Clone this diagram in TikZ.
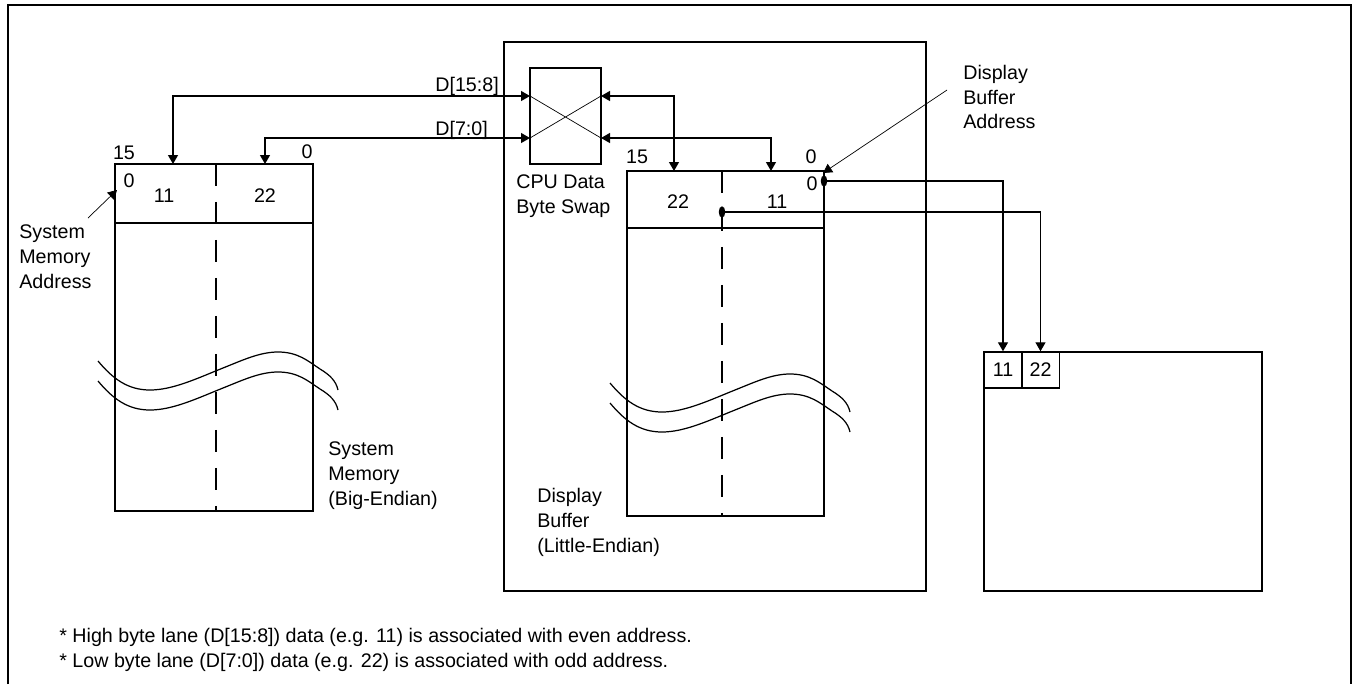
\documentclass[tikz,border=0pt]{standalone}
\usepackage{fontspec}
\setmainfont{Liberation Sans}
\usetikzlibrary{arrows.meta}
\begin{document}
\begin{tikzpicture}[x=0.02cm,y=-0.02cm,font=\fontsize{11.2}{14.2}\selectfont,
  box/.style={line width=0.8pt},
  bus/.style={line width=0.7pt,{Triangle[length=0.18cm,width=0.2cm]}-{Triangle[length=0.18cm,width=0.2cm]}},
  feed/.style={line width=0.7pt,-{Triangle[length=0.18cm,width=0.2cm]}},
  lead/.style={line width=0.4pt,-{Triangle[length=0.18cm,width=0.2cm]}},
  lane/.style={line width=0.7pt,dash pattern=on 0.44cm off 0.32cm},
  wave/.style={line width=0.7pt},
  cell/.style={draw,line width=0.8pt,minimum width=0.76cm,minimum height=0.72cm,inner sep=0pt},
  txt/.style={anchor=west,align=left,inner sep=0pt}]
  \useasboundingbox (0,0) rectangle (1357,684);
  \draw[box] (8,684) -- (8,5) -- (1351,5) -- (1351,684);
  % system memory
  \draw[box] (115,164) rectangle (313,511);
  \draw[box] (115,223) -- (313,223);
  \draw[lane] (216,164) -- (216,511);
  \foreach \dy in {0,20}
    \draw[wave,shift={(98,{361+\dy})}] (0,0) .. controls (15,18) and (30,29) .. (52,29)
      .. controls (75,29) and (100,17) .. (125,7) .. controls (145,-1) and (162,-9) .. (180,-9)
      .. controls (200,-9) and (210,0) .. (222,8) .. controls (232,14) and (238,20) .. (240,29);
  \node (smhi) at (124,153) {15};
  \node (smlo) at (307,152) {0};
  \node (smad) at (129,181) {0};
  \node (smd11) at (164,196) {11};
  \node (smd22) at (265,196) {22};
  \node[txt] (smaddr) at (19,257) {System\\Memory\\Address};
  \node[txt] (smname) at (328,476) {System\\Memory\\(Big-Endian)};
  % display buffer
  \draw[box] (504,42) rectangle (926,591);
  \draw[box] (627,171) rectangle (824,516);
  \draw[box] (627,228) -- (824,228);
  \draw[lane] (722,171) -- (722,516);
  \foreach \dy in {0,20}
    \draw[wave,shift={(610,{383+\dy})}] (0,0) .. controls (15,18) and (30,29) .. (52,29)
      .. controls (75,29) and (100,17) .. (125,7) .. controls (145,-1) and (162,-9) .. (180,-9)
      .. controls (200,-9) and (210,0) .. (222,8) .. controls (232,14) and (238,20) .. (240,29);
  \node (dbhi) at (637,157) {15};
  \node (dblo) at (811,157) {0};
  \node (dbad) at (812,184) {0};
  \node (dbd22) at (678,202) {22};
  \node (dbd11) at (777,202) {11};
  \node[txt] (dbname) at (537,522) {Display\\Buffer\\(Little-Endian)};
  \node[txt] (dbaddr) at (963,97) {Display\\Buffer\\Address};
  % byte swap
  \draw[box] (530,68) rectangle (601,164);
  \draw[line width=0.4pt] (530,96) -- (601,138) (530,138) -- (601,96);
  \node[txt] (swname) at (516,196) {CPU Data\\Byte Swap};
  \node[txt] (bushi) at (435,86) {D[15:8]};
  \node[txt] (buslo) at (435,130) {D[7:0]};
  % screen
  \draw[box] (984,352) rectangle (1262,591);
  \node[cell] (c11) at (1003,370) {11};
  \node[cell] (c22) at (1040.5,370) {22};
  % connectors
  \coordinate (smtophi) at (173,164);
  \coordinate (smtoplo) at (265,164);
  \coordinate (swinhi) at (530,96);
  \coordinate (swinlo) at (530,138);
  \coordinate (swouthi) at (601,96);
  \coordinate (swoutlo) at (601,138);
  \coordinate (dbtophi) at (674,171);
  \coordinate (dbtoplo) at (771,171);
  \coordinate (dotA) at (824,181);
  \coordinate (dotB) at (722,212);
  \draw[bus] (smtophi) |- (swinhi);
  \draw[bus] (smtoplo) |- (swinlo);
  \draw[bus] (swouthi) -| (dbtophi);
  \draw[bus] (swoutlo) -| (dbtoplo);
  \fill (dotA) ellipse (0.065cm and 0.115cm);
  \fill (dotB) ellipse (0.065cm and 0.115cm);
  \draw[feed] (dotA) -| (c11.north);
  \draw[feed] (dotB) -| (c22.north);
  \draw[lead] (88,218) -- (117,190);
  \draw[lead] (947,90) -- (823,173);
  \node[txt] (notes) at (59,650) {* High byte lane (D[15:8]) data (e.g. 11) is associated with even address.\\* Low byte lane (D[7:0]) data (e.g. 22) is associated with odd address.};
\end{tikzpicture}
\end{document}
